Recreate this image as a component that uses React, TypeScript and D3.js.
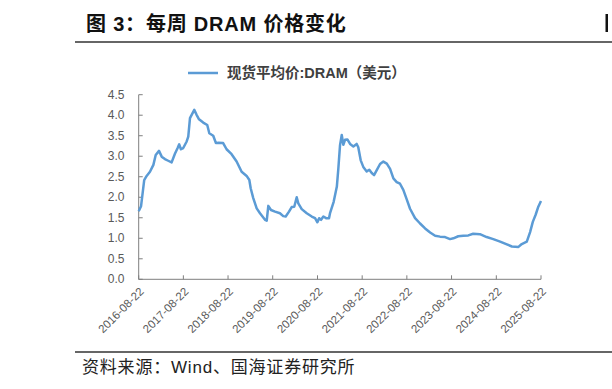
import React from "react";
import * as d3 from "d3";

const dates: string[] = [
  "2016-08-22","2016-09-10","2016-10-06","2016-10-26","2016-11-22","2016-12-20",
  "2017-01-08","2017-02-04","2017-02-26","2017-03-24","2017-04-20","2017-05-18",
  "2017-06-14","2017-07-06","2017-07-19","2017-08-02","2017-08-21","2017-09-18",
  "2017-10-01","2017-10-15","2017-11-19","2017-12-08","2017-12-28","2018-01-31",
  "2018-03-05","2018-03-22","2018-04-23","2018-05-15","2018-06-03","2018-07-13",
  "2018-08-10","2018-09-20","2018-10-31","2018-12-11","2019-01-21","2019-02-12",
  "2019-02-23","2019-03-16","2019-04-13","2019-05-10","2019-06-20","2019-07-04",
  "2019-07-17","2019-08-08","2019-09-10","2019-10-20","2019-11-16","2019-12-06",
  "2020-01-02","2020-01-24","2020-02-14","2020-03-05","2020-03-18","2020-04-15",
  "2020-05-26","2020-07-06","2020-08-02","2020-08-21","2020-09-04","2020-09-20",
  "2020-10-09","2020-10-31","2020-11-24","2020-12-03","2021-01-01","2021-01-27",
  "2021-02-08","2021-02-22","2021-03-08","2021-03-21","2021-04-04","2021-04-23",
  "2021-05-15","2021-06-11","2021-07-08","2021-07-21","2021-08-10","2021-08-31",
  "2021-09-28","2021-10-19","2021-11-08","2021-11-27","2021-12-19","2022-01-15",
  "2022-02-11","2022-03-11","2022-04-07","2022-05-04","2022-05-31","2022-06-27",
  "2022-07-24","2022-08-21","2022-09-17","2022-10-28","2022-12-08","2023-01-18",
  "2023-02-28","2023-04-10","2023-05-20","2023-06-30","2023-08-10","2023-09-06",
  "2023-10-16","2023-11-26","2024-01-06","2024-02-15","2024-04-10","2024-06-04",
  "2024-07-28","2024-09-22","2024-11-16","2024-12-27","2025-02-19","2025-03-18",
  "2025-04-28","2025-05-25","2025-06-16","2025-07-10","2025-07-31","2025-08-22"
];

const prices: number[] = [
  1.66,1.78,2.42,2.52,2.62,2.79,
  3.03,3.13,2.99,2.93,2.89,2.85,
  3.06,3.20,3.29,3.17,3.20,3.36,
  3.48,3.93,4.13,4.01,3.90,3.82,
  3.76,3.56,3.50,3.32,3.33,3.32,
  3.17,3.05,2.87,2.62,2.52,2.42,
  2.22,1.98,1.73,1.61,1.45,1.43,
  1.79,1.69,1.65,1.61,1.54,1.53,
  1.65,1.76,1.77,2.00,1.85,1.71,
  1.61,1.53,1.49,1.39,1.49,1.45,
  1.53,1.49,1.49,1.62,1.89,2.26,
  2.69,3.27,3.52,3.28,3.40,3.41,
  3.30,3.24,3.30,3.22,2.90,2.74,
  2.63,2.67,2.59,2.54,2.66,2.81,
  2.87,2.82,2.69,2.46,2.37,2.33,
  2.18,1.95,1.72,1.49,1.36,1.24,
  1.14,1.06,1.04,1.03,0.98,1.00,
  1.05,1.06,1.07,1.11,1.10,1.03,
  0.98,0.92,0.85,0.80,0.79,0.86,
  0.92,1.15,1.40,1.58,1.77,1.91
];

const xTickDates: string[] = [
  "2016-08-22","2017-08-22","2018-08-22","2019-08-22","2020-08-22",
  "2021-08-22","2022-08-22","2023-08-22","2024-08-22","2025-08-22"
];
const yTicks: number[] = [0, 0.5, 1, 1.5, 2, 2.5, 3, 3.5, 4, 4.5];

const title = "图 3：每周 DRAM 价格变化";
const seriesName = "现货平均价:DRAM（美元）";
const source = "资料来源：Wind、国海证券研究所";

const parse = d3.timeParse("%Y-%m-%d");
const fmt = d3.timeFormat("%Y-%m-%d");

export default function App() {
  const W = 612, H = 389;
  const x = d3.scaleTime()
    .domain([parse(xTickDates[0])!, parse(xTickDates[xTickDates.length - 1])!])
    .range([138.7, 541]);
  const y = d3.scaleLinear().domain([0, 4.5]).range([279.3, 94.7]);
  const data = dates.map((d, i) => ({ d: parse(d)!, v: prices[i] }));
  const line = d3.line<{ d: Date; v: number }>().x(p => x(p.d)).y(p => y(p.v));
  const axisColor = "#7f7f7f";
  const labelColor = "#595959";
  const latin = "'Liberation Sans', Arial, 'Noto Sans CJK SC', sans-serif";
  const x0 = x.range()[0], x1 = x.range()[1];
  const y0 = y.range()[0], y1 = y.range()[1];
  return (
    <svg width={W} height={H} style={{ position: "absolute", left: 0, top: 0, background: "#fff" }}>
      <rect width={W} height={H} fill="#fff" />
      <text x={86} y={31} fontSize={20} letterSpacing={0.8} fontWeight="bold" fontFamily={latin} fill="#111">{title}</text>
      <rect x={605.5} y={14} width={2.5} height={18} fill="#111" />
      <line x1={75} x2={612} y1={42} y2={42} stroke="#333" strokeWidth={1.3} />
      {/* legend */}
      <line x1={188} x2={218} y1={73} y2={73} stroke="#5B9BD5" strokeWidth={2.5} />
      <text x={227} y={73} dominantBaseline="central" fontSize={14.5} fontWeight="bold" fontFamily={latin} fill="#404040">{seriesName}</text>
      {/* y axis */}
      <line x1={x0} x2={x0} y1={y1} y2={y0} stroke={axisColor} strokeWidth={1} />
      {yTicks.map(t => (
        <g key={t}>
          <line x1={x0} x2={x0 + 4} y1={y(t)} y2={y(t)} stroke={axisColor} />
          <text x={124.5} y={y(t)} textAnchor="end" dominantBaseline="central" fontSize={12} fontFamily={latin} fill={labelColor}>{d3.format(".1f")(t)}</text>
        </g>
      ))}
      {/* x axis */}
      <line x1={x0} x2={x1} y1={y0} y2={y0} stroke={axisColor} strokeWidth={1} />
      {xTickDates.map(s => {
        const px = x(parse(s)!);
        return (
          <g key={s}>
            <line x1={px} x2={px} y1={y0} y2={y0 - 4} stroke={axisColor} />
            <text transform={`translate(${px + 3},${y0 + 10}) rotate(-45)`} textAnchor="end" dominantBaseline="central" fontSize={11.5} fontFamily={latin} fill={labelColor}>{fmt(parse(s)!)}</text>
          </g>
        );
      })}
      <path d={line(data)!} fill="none" stroke="#5B9BD5" strokeWidth={2.5} strokeLinejoin="round" />
      <line x1={75} x2={612} y1={352} y2={352} stroke="#333" strokeWidth={1.3} />
      <text x={82} y={373} fontSize={17} letterSpacing={0.8} fontFamily={latin} fill="#222">{source}</text>
    </svg>
  );
}
